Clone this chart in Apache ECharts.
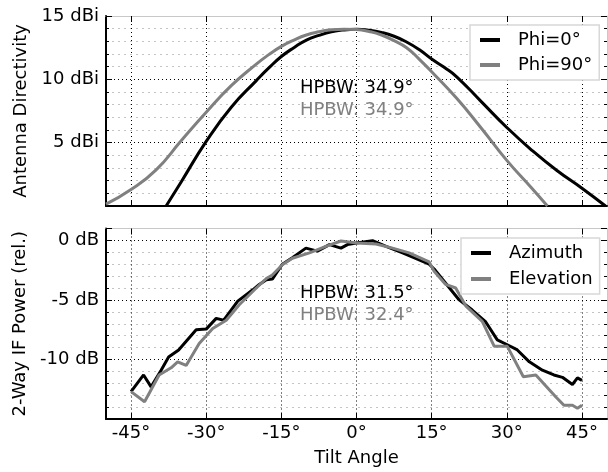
<!DOCTYPE html>
<html>
<head>
<meta charset="utf-8">
<script src="https://cdn.jsdelivr.net/npm/echarts@6/dist/echarts.min.js"></script>
<style>
html, body { margin: 0; padding: 0; background: #fff; }
#chart { width: 608px; height: 472px; }
</style>
</head>
<body>
<div id="chart"></div>
<script>
// tick labels
const tiltTicks = [-45, -30, -15, 0, 15, 30, 45]
const directivityTicks = [5, 10, 15]
const powerTicks = [-10, -5, 0]

// top panel: antenna directivity (dBi)
const phi0Angles = [-38, -35, -30, -25, -20, -17.5, -15, -12.5, -10, -7.5, -5, -2.5, 0, 2.5, 5, 7.5, 10, 12.5, 15, 17.5, 20, 25, 30, 35, 40, 45, 49.7]
const phi0Dir = [0, 1.9, 5.1, 7.8, 9.9, 10.9, 11.8, 12.5, 13.1, 13.47, 13.75, 13.9, 13.95, 13.88, 13.7, 13.4, 12.95, 12.35, 11.6, 10.95, 10.2, 8.2, 6.2, 4.4, 2.8, 1.4, 0]
const phi90Angles = [-50, -45, -40, -35, -30, -25, -20, -17.5, -15, -12.5, -10, -7.5, -5, -2.5, 0, 2.5, 5, 7.5, 10, 12.5, 15, 20, 25, 30, 35, 38.1]
const phi90Dir = [0.15, 1.3, 2.85, 5.15, 7.4, 9.5, 11.2, 11.95, 12.6, 13.1, 13.5, 13.75, 13.92, 13.96, 13.93, 13.78, 13.5, 13.05, 12.5, 11.6, 10.6, 8.5, 6.1, 3.6, 1.4, 0]

// bottom panel: 2-way IF power (dB, relative)
const azAngles = [-45, -42.5, -41, -39, -37.5, -35.5, -32, -30, -28, -26.5, -23.7, -20.7, -19.4, -18, -16.8, -14.8, -12.8, -10.1, -7.8, -5.4, -3.1, -1.8, 0, 3.2, 5.9, 9.2, 11.8, 14.5, 15.5, 17.8, 20.5, 23.1, 25.8, 28.1, 30.5, 32.1, 34.5, 37.1, 39.4, 41.1, 43.1, 44.1, 45]
const azPower = [-12.7, -11.3, -12.3, -10.9, -9.8, -9.2, -7.5, -7.45, -6.55, -6.7, -5.1, -4.15, -3.7, -3.3, -3.25, -2.0, -1.45, -0.65, -0.9, -0.35, -0.65, -0.35, -0.22, -0.02, -0.5, -1.05, -1.5, -2.0, -2.4, -3.6, -5.0, -5.85, -6.85, -8.35, -8.85, -9.2, -10.2, -10.9, -11.3, -11.5, -12.1, -11.55, -11.75]
const elAngles = [-45, -42.3, -39.4, -37, -35.7, -34, -31.4, -28.7, -26, -23.4, -20, -18, -16.8, -14.8, -12.8, -9.4, -6.1, -3.1, 0, 3.9, 7.2, 10.5, 14.5, 15.5, 17.8, 19.8, 21.8, 25.1, 27.5, 30.1, 33.3, 35.8, 39.8, 41.4, 43.1, 44.1, 45]
const elPower = [-12.7, -13.55, -11.3, -10.7, -10.2, -10.5, -8.65, -7.4, -6.7, -5.4, -4.0, -3.2, -2.9, -2.05, -1.5, -1.05, -0.5, -0.05, -0.22, -0.3, -0.65, -1.05, -1.8, -2.6, -3.7, -4.0, -5.5, -6.8, -8.9, -8.9, -11.45, -11.3, -13.15, -13.85, -13.85, -14.1, -13.85]

// HPBW annotations
const topNotes = ['HPBW: 34.9°', 'HPBW: 34.9°']
const bottomNotes = ['HPBW: 31.5°', 'HPBW: 32.4°']

const FONT = 'DejaVu Sans'
const FS = 18
const GREY = '#808080'
const zip = (xs, ys) => xs.map((x, i) => [x, ys[i]])

const majorGrid = { show: true, lineStyle: { color: '#000', width: 1, type: [1, 3] } }
const minorGrid = { show: true, lineStyle: { color: '#c4c4c4', width: 1, type: [2, 4] } }

const bottomX = (gridIndex, withLabels) => ({
    type: 'value', gridIndex, min: -50, max: 50, position: 'bottom',
    axisLine: { show: true, onZero: false, lineStyle: { color: '#000', width: 2 } },
    axisTick: { show: true, inside: true, length: 6, customValues: tiltTicks, lineStyle: { color: '#000' } },
    axisLabel: {
        show: withLabels, customValues: tiltTicks, margin: 5,
        formatter: v => v + '°', color: '#000', fontSize: FS, fontFamily: FONT
    },
    splitLine: majorGrid,
    name: withLabels ? 'Tilt Angle' : '', nameLocation: 'middle', nameGap: 30,
    nameTextStyle: { color: '#000', fontSize: FS, fontFamily: FONT }
})

const topX = gridIndex => ({
    type: 'value', gridIndex, min: -50, max: 50, position: 'top',
    axisLine: { show: true, onZero: false, lineStyle: { color: '#c8c8c8', width: 1 } },
    axisTick: { show: true, inside: true, length: 6, customValues: tiltTicks, lineStyle: { color: '#000' } },
    axisLabel: { show: false },
    splitLine: { show: false }
})

const leftY = (gridIndex, min, max, labels, unit, name) => ({
    type: 'value', gridIndex, min, max, interval: 5, position: 'left',
    axisLine: { show: true, onZero: false, lineStyle: { color: '#000', width: 2 } },
    axisTick: { show: true, inside: true, length: 6, lineStyle: { color: '#000' } },
    minorTick: { show: true, splitNumber: 5, length: 3, lineStyle: { color: '#000' } },
    axisLabel: {
        margin: 7, color: '#000', fontSize: FS, fontFamily: FONT,
        formatter: v => labels.includes(v) ? v + ' ' + unit : ''
    },
    splitLine: majorGrid,
    minorSplitLine: minorGrid,
    name, nameLocation: 'middle', nameGap: 72,
    nameTextStyle: { color: '#000', fontSize: FS, fontFamily: FONT }
})

const rightY = (gridIndex, min, max) => ({
    type: 'value', gridIndex, min, max, interval: 5, position: 'right',
    axisLine: { show: true, onZero: false, lineStyle: { color: '#c8c8c8', width: 1 } },
    axisTick: { show: true, inside: true, length: 6, lineStyle: { color: '#000' } },
    minorTick: { show: true, splitNumber: 5, length: 3, lineStyle: { color: '#000' } },
    axisLabel: { show: false },
    splitLine: { show: false }
})

const line = (name, xAxisIndex, data, color, smooth) => ({
    name, type: 'line', xAxisIndex, yAxisIndex: xAxisIndex, data, smooth,
    symbol: 'none', clip: true, animation: false,
    lineStyle: { color, width: 3 }, itemStyle: { color }
})

const legendBox = (data, left, top, gap) => ({
    data, left, top, orient: 'vertical',
    icon: 'rect', itemWidth: 20, itemHeight: 4, itemGap: gap,
    padding: [6, 7, 6, 10],
    backgroundColor: '#fff', borderColor: '#d8d8d8', borderWidth: 1.5,
    textStyle: { color: '#000', fontSize: FS, fontFamily: FONT, padding: [0, 0, 0, 13] }
})

const myChart = echarts.init(document.querySelector('#chart'), null, { renderer: 'canvas' })
myChart.setOption({
    backgroundColor: '#fff',
    animation: false,
    grid: [
        { left: 106, right: 1, top: 16, height: 190 },
        { left: 106, right: 1, top: 228.5, height: 190.5 }
    ],
    xAxis: [bottomX(0, false), topX(0), bottomX(1, true), topX(1)],
    yAxis: [
        leftY(0, 0, 15, directivityTicks, 'dBi', 'Antenna Directivity'),
        rightY(0, 0, 15),
        leftY(1, -15, 1, powerTicks, 'dB', '2-Way IF Power (rel.)'),
        rightY(1, -15, 1)
    ],
    legend: [
        legendBox(['Phi=0°', 'Phi=90°'], 470, 25, 7),
        legendBox(['Azimuth', 'Elevation'], 461, 238, 8)
    ],
    series: [
        line('Phi=0°', 0, zip(phi0Angles, phi0Dir), '#000', true),
        line('Phi=90°', 0, zip(phi90Angles, phi90Dir), GREY, true),
        line('Azimuth', 2, zip(azAngles, azPower), '#000', false),
        line('Elevation', 2, zip(elAngles, elPower), GREY, false)
    ]
})

// place the HPBW notes in data coordinates
const note = (gridIndex, at, text, color) => {
    const [x, y] = myChart.convertToPixel({ gridIndex }, at)
    return {
        type: 'text', x, y, z: 10,
        style: { text, fill: color, font: FS + 'px "DejaVu Sans"', textAlign: 'left', textVerticalAlign: 'middle' }
    }
}
myChart.setOption({
    graphic: [
        note(0, [-11.3, 9.3], topNotes[0], '#000'),
        note(0, [-11.3, 7.55], topNotes[1], GREY),
        note(1, [-11.3, -4.43], bottomNotes[0], '#000'),
        note(1, [-11.3, -6.26], bottomNotes[1], GREY)
    ]
})
</script>
</body>
</html>
